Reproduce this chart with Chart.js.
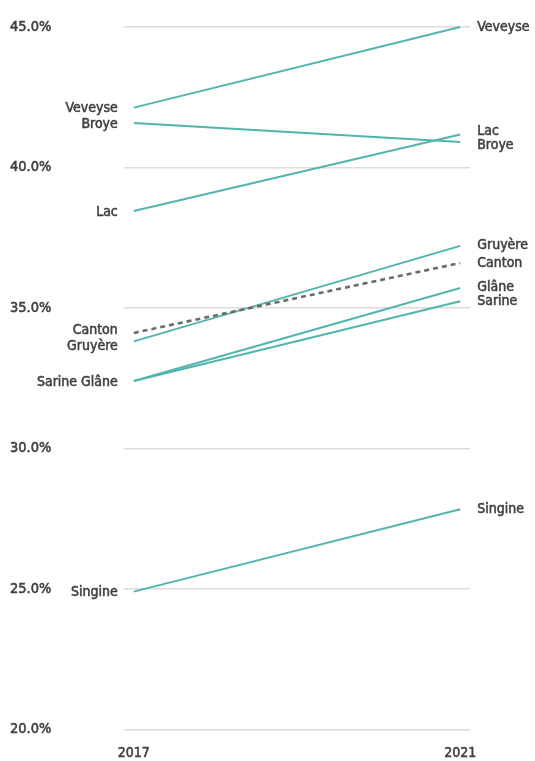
<!DOCTYPE html>
<html>
<head>
<meta charset="utf-8">
<script src="https://cdn.jsdelivr.net/npm/chart.js@4"></script>
<style>
html,body{margin:0;padding:0;background:#fff;}
#wrap{width:535px;height:761px;position:relative;}
</style>
</head>
<body>
<div id="wrap"><canvas id="c"></canvas></div>
<script>
const years = [2017, 2021];
const names = ['Veveyse', 'Broye', 'Lac', 'Gruyère', 'Canton', 'Sarine', 'Glâne', 'Singine'];
const values2017 = [42.13, 41.58, 38.45, 33.81, 34.11, 32.4, 32.4, 24.9];
const values2021 = [45.0, 40.91, 41.17, 37.21, 36.6, 35.24, 35.71, 27.83];
const yTicks = [20, 25, 30, 35, 40, 45];

const FONT = '"DejaVu Sans Condensed", "Liberation Sans Narrow", "DejaVu Sans", sans-serif';
const TEXT = '#404040';
const TEAL = '#52b5ad';
const GREY = '#6b6b6b';
const STROKE = 0.55;

const datasets = names.map((n, i) => ({
  label: n,
  data: [{x: years[0], y: values2017[i]}, {x: years[1], y: values2021[i]}],
  borderColor: n === 'Canton' ? GREY : TEAL,
  borderWidth: n === 'Canton' ? 2.6 : 2,
  borderDash: n === 'Canton' ? [5, 4] : [],
  pointRadius: 0,
  tension: 0,
  clip: false,
  order: n === 'Canton' ? 0 : 1
}));

function spread(items, gap) {
  items.sort((a, b) => a.y - b.y);
  for (let k = 0; k < 5; k++) {
    for (let i = 1; i < items.length; i++) {
      const d = items[i].y - items[i - 1].y;
      if (d < gap) {
        const m = (items[i].y + items[i - 1].y) / 2;
        items[i - 1].y = m - gap / 2;
        items[i].y = m + gap / 2;
      }
    }
  }
  return items;
}

const labelPlugin = {
  id: 'endLabels',
  afterDatasetsDraw(chart) {
    const ctx = chart.ctx;
    const xs = chart.scales.x, ys = chart.scales.y;
    ctx.save();
    ctx.font = '14px ' + FONT;
    ctx.fillStyle = TEXT;
    ctx.strokeStyle = TEXT;
    ctx.lineWidth = STROKE;
    ctx.lineJoin = 'round';
    ctx.textBaseline = 'middle';
    const draw = (t, x, y) => { ctx.strokeText(t, x, y); ctx.fillText(t, x, y); };
    // left side: merge identical values
    const leftMap = [];
    names.forEach((n, i) => {
      const v = values2017[i];
      const ex = leftMap.find(o => Math.abs(o.v - v) < 0.001);
      if (ex) ex.name += ' ' + n; else leftMap.push({name: n, v: v});
    });
    let left = leftMap.map(o => ({name: o.name, y: ys.getPixelForValue(o.v)}));
    left = spread(left, 16);
    ctx.textAlign = 'right';
    const lx = xs.getPixelForValue(years[0]) - 16;
    left.forEach(o => draw(o.name, lx, o.y + 1));
    let right = names.map((n, i) => ({name: n, y: ys.getPixelForValue(values2021[i])}));
    right = spread(right, 14.5);
    ctx.textAlign = 'left';
    const rx = xs.getPixelForValue(years[1]) + 17;
    right.forEach(o => draw(o.name, rx, o.y));
    ctx.restore();
  }
};

new Chart(document.getElementById('c'), {
  type: 'line',
  data: {datasets},
  options: {
    responsive: true,
    maintainAspectRatio: false,
    animation: false,
    layout: {padding: {top: 27, left: 10, right: 65, bottom: 0}},
    plugins: {legend: {display: false}, tooltip: {enabled: false}},
    scales: {
      x: {
        type: 'linear',
        min: years[0] - 0.12,
        max: years[1] + 0.12,
        afterBuildTicks: s => { s.ticks = years.map(v => ({value: v})); },
        afterFit: s => { s.height = 31.7; },
        grid: {display: false, drawTicks: false},
        border: {display: false},
        ticks: {
          font: {family: FONT, size: 14},
          color: TEXT,
          textStrokeColor: TEXT,
          textStrokeWidth: STROKE,
          padding: 16,
          maxRotation: 0,
          callback: v => String(v)
        }
      },
      y: {
        min: 20,
        max: 45,
        afterBuildTicks: s => { s.ticks = yTicks.map(v => ({value: v})); },
        afterFit: s => { s.width = 114; },
        grid: {color: '#dcdcdc', lineWidth: 1.5, drawTicks: false},
        border: {display: false},
        ticks: {
          font: {family: FONT, size: 14.5},
          color: TEXT,
          textStrokeColor: TEXT,
          textStrokeWidth: STROKE,
          crossAlign: 'far',
          padding: 0,
          callback: v => v.toFixed(1) + '%'
        }
      }
    }
  },
  plugins: [labelPlugin]
});
</script>
</body>
</html>
